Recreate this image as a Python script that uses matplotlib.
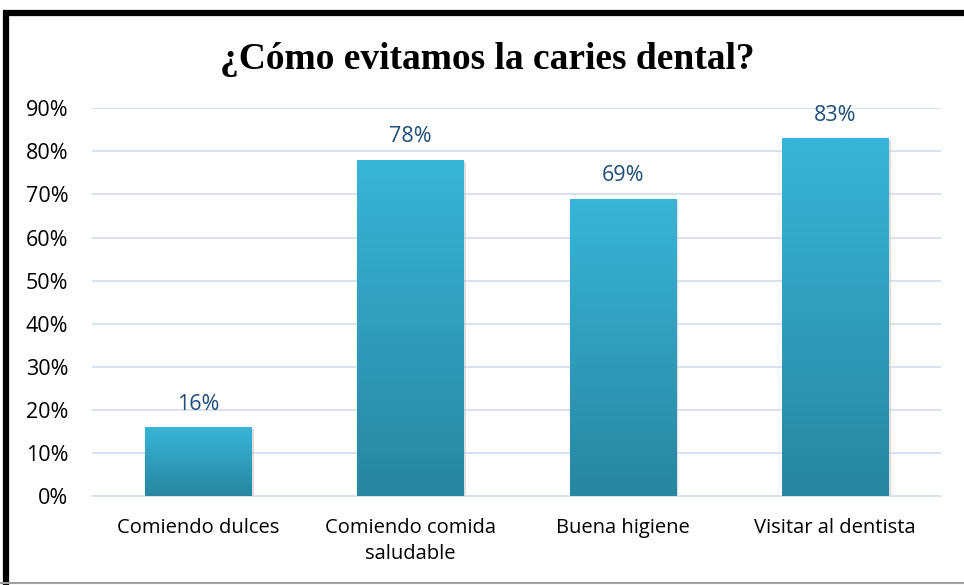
import numpy as np
from matplotlib import pyplot as plt
from matplotlib.colors import LinearSegmentedColormap
from matplotlib.lines import Line2D

categories = ["Comiendo dulces", "Comiendo comida\nsaludable", "Buena higiene", "Visitar al dentista"]
values = [0.16, 0.78, 0.69, 0.83]
labels = ["16%", "78%", "69%", "83%"]
yticks = [0.0, 0.1, 0.2, 0.3, 0.4, 0.5, 0.6, 0.7, 0.8, 0.9]
ytick_labels = ["0%", "10%", "20%", "30%", "40%", "50%", "60%", "70%", "80%", "90%"]

fig = plt.figure(figsize=(9.64, 5.85), dpi=100)
ax = fig.add_axes([0.0954, 0.152, 0.881, 0.663])

grad = LinearSegmentedColormap.from_list("g", ["#2886a0", "#38b5d8"])
x = np.arange(len(values))
bars = ax.bar(x, values, width=0.5, color="none", zorder=3)
for b in bars:
    # soft shadow
    sh = plt.Rectangle((b.get_x() + 0.012, -0.004), b.get_width(), b.get_height(),
                       facecolor="#c8c8c8", edgecolor="none", alpha=0.6, zorder=2)
    ax.add_patch(sh)
    img = ax.imshow(np.linspace(0, 1, 256).reshape(-1, 1), cmap=grad, aspect="auto",
                    origin="lower", extent=[b.get_x(), b.get_x() + b.get_width(), 0, b.get_height()],
                    zorder=3)
    img.set_clip_path(b)

for xi, v, lab in zip(x, values, labels):
    ax.text(xi, v + 0.029, lab, ha="center", va="bottom", fontsize=15.5,
            color="#1f4e79", family="Open Sans")

ax.set_xlim(-0.5, 3.5)
ax.set_ylim(0, 0.9)
ax.set_yticks(yticks)
ax.set_yticklabels(ytick_labels, fontsize=15.5, family="Open Sans")
ax.set_xticks(x)
ax.set_xticklabels(categories, fontsize=14.5, family="Open Sans", linespacing=1.4)
ax.tick_params(axis="y", length=0, pad=17)
ax.tick_params(axis="x", length=0, pad=16)
ax.grid(axis="y", color="#d6e1ef", linewidth=1.3, zorder=0)
ax.set_axisbelow(True)
for s in ["top", "right", "left"]:
    ax.spines[s].set_visible(False)
ax.spines["bottom"].set_color("#d6e1ef")
ax.spines["bottom"].set_linewidth(1.3)

fig.text(0.505, 0.899, "¿Cómo evitamos la caries dental?", ha="center", va="center",
         fontsize=27, fontweight="bold", family="Liberation Serif")

# frame around the chart
fig.add_artist(Line2D([0.003, 1.0], [0.978, 0.978], color="black", linewidth=4.5,
                      transform=fig.transFigure, solid_capstyle="butt"))
fig.add_artist(Line2D([0.0065, 0.0065], [0.0, 0.982], color="black", linewidth=4.5,
                      transform=fig.transFigure, solid_capstyle="butt"))
fig.add_artist(Line2D([0.0, 1.0], [0.004, 0.004], color="#a0a0a0", linewidth=1.5,
                      transform=fig.transFigure))

fig.savefig("out.png", dpi=100)
